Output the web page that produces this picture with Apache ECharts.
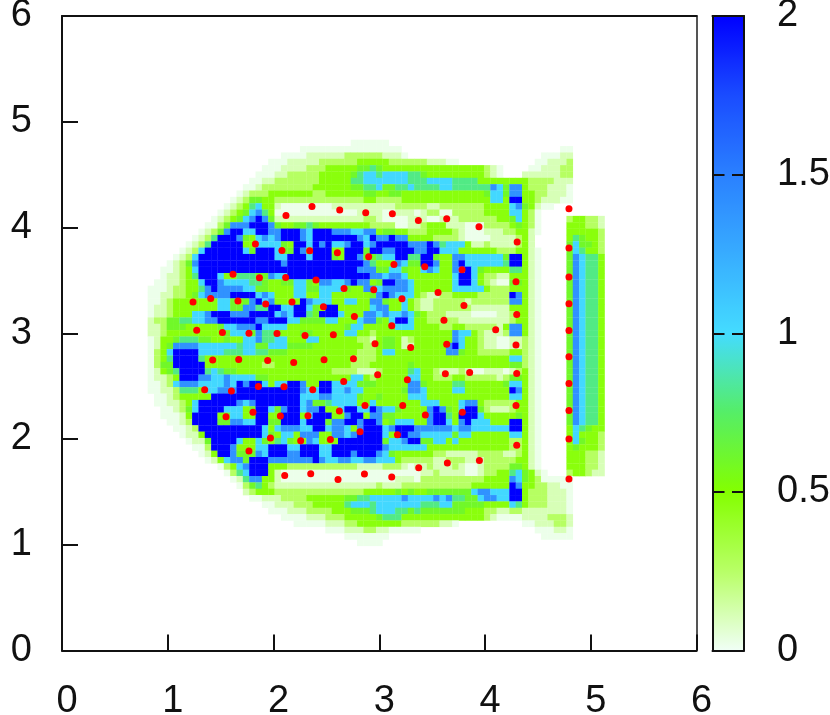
<!DOCTYPE html>
<html>
<head>
<meta charset="utf-8">
<style>html,body{margin:0;padding:0;background:#fff}#c{width:830px;height:715px}</style>
<script src="https://cdn.jsdelivr.net/npm/echarts@6/dist/echarts.min.js"></script>
</head>
<body>
<div id="c"></div>
<script>
// Cell levels. Row 0 is j=20 from the top, column 0 is i=14, cell pitch 0.06.
const xTicks = [0,1,2,3,4,5,6];
const yTicks = [0,1,2,3,4,5,6];
const barTicks = [0,0.5,1,1.5,2];
const levelValues = [0,0.02,0.11,0.26,0.47,0.6,0.8,1.02,1.4,2];
const rows = [
"000000 000000 000000 000000 000000 001111 110000 000000 000000 000000 000000 000000",
"000000 000000 000000 000000 111111 111111 111100 000000 000000 000000 000001 100000",
"000000 000000 000000 000111 122222 233333 322210 000000 000000 000000 001112 200000",
"000000 000000 000000 011122 222333 333444 443333 332221 100000 000000 011222 300000",
"000000 000000 000000 111222 233344 444556 544444 444444 444443 210000 112223 300000",
"000000 000000 000001 112233 333444 445677 677776 654444 444443 210002 222223 300000",
"000000 000000 000011 223333 333444 446677 777776 667777 666644 444444 333322 200000",
"000000 000000 000112 333333 334444 445566 755667 666677 666666 875884 333222 100000",
"000000 000000 001233 344444 443344 444455 445544 444444 444445 775884 433222 100000",
"000000 000000 012355 443333 333333 333344 333344 444444 444444 774994 432221 100000",
"000000 000000 123467 442111 111112 222222 222333 332233 333334 444785 421100 000000",
"000000 000001 234578 641111 111111 111222 211222 123311 333334 444774 310000 000000",
"000000 000012 345789 852222 222222 222233 211112 221122 233333 344574 310000 344332",
"000000 000113 588899 985445 565444 444443 333112 234442 221113 333454 310000 444332",
"000000 001235 899779 988999 879998 887788 455443 334444 321112 223344 210000 444443",
"000000 012369 998547 878999 879999 999879 889884 444333 321111 222234 200000 465443",
"000000 123699 999447 777549 979897 789978 999998 889867 774223 222234 200000 575543",
"000001 237999 999759 997559 859994 499959 988999 889977 744444 433344 210000 576443",
"000012 379999 999999 997799 979995 499855 677996 699544 887777 775994 210000 587664",
"000123 589999 999999 999899 999999 999986 444875 599844 897777 776994 210000 587664",
"001123 479999 999999 999999 999999 999888 557754 478744 889754 444664 210000 587664",
"001223 469997 446665 587799 999999 999998 878874 444444 799743 322444 210000 587664",
"011223 447998 777766 544557 754887 789884 599887 444444 799743 211554 210000 587664",
"111233 446898 888775 544447 755777 754488 788887 444444 777774 333444 210000 587664",
"112233 457888 899997 874447 744774 444445 898777 432233 444433 333984 210000 587664",
"112344 444447 754589 784444 987774 477448 854474 322333 332333 333884 210000 587664",
"122344 444447 755886 699779 975499 444447 884474 322333 333222 222444 210000 587664",
"122344 477899 988899 997879 965999 744488 787787 543332 222111 122344 210000 587664",
"233556 677889 999998 899977 555577 444788 547997 443333 322222 222344 210000 587664",
"223555 444445 778889 777744 444444 457744 445777 444433 443333 324884 210000 587664",
"223444 444444 577758 665444 554444 477443 444444 444444 877432 223884 210000 587664",
"124456 665544 544778 667744 477444 444332 455423 444444 874432 211223 210000 587664",
"124588 887777 776775 577755 554444 444433 455422 444448 974432 211223 210000 587664",
"134799 997777 666776 655544 444444 444333 477444 444448 854433 333443 210000 587664",
"134699 996444 444444 444444 444444 443333 444444 444444 444444 444773 210000 587664",
"135599 999444 444444 334444 444444 443334 444445 444444 444444 444553 210000 587664",
"124569 999676 554444 444444 444443 333222 344446 744322 232112 221234 210000 587664",
"122349 998877 877775 544444 444444 447743 444447 744333 443333 323554 210000 587664",
"112378 887777 879899 747799 844997 777555 444448 854444 664444 445774 210000 587664",
"112236 664778 889999 999999 877997 787744 444458 874444 774444 444984 210000 587664",
"011234 444499 999999 999999 777887 777544 544447 774444 444444 444774 210000 587664",
"011223 479999 998789 999999 785567 777447 444444 477744 478843 333344 210000 587664",
"001123 579999 777459 975899 788944 799779 877544 448985 479953 222344 210000 587664",
"001112 499994 577449 944999 479994 489948 855444 448996 499974 444454 210000 587664",
"000112 399995 588779 955999 799958 899899 845777 448997 489777 444994 210000 587664",
"000011 239999 999999 747888 779978 874899 978999 888888 788777 777994 210000 476544",
"000001 224999 999999 754774 888448 878999 974998 877777 577444 444774 210000 474443",
"000000 122599 997447 546754 487444 999999 957789 955774 744444 444334 210000 475443",
"000000 011399 984447 799977 999779 999999 987777 774444 444444 444334 210000 454443",
"000000 001249 985558 799988 999779 998999 875444 444332 222233 332234 210000 444332",
"000000 000124 788599 988888 889877 887788 777433 333223 332223 333344 210000 444332",
"000000 000001 347899 944433 333333 333222 233321 223222 321123 333554 210000 444332",
"000000 000000 136799 942111 111111 111111 111111 122322 221123 344675 421000 344322",
"000000 000000 012688 442111 111111 111111 111222 133333 333334 444875 431111 100000",
"000000 000000 001356 432222 222222 222222 322233 333333 333444 444984 433221 100000",
"000000 000000 000234 443333 333333 333344 444545 445555 555788 777994 333222 100000",
"000000 000000 000011 222333 344444 455667 777787 777878 665578 877994 333222 100000",
"000000 000000 000000 112223 334444 467776 777777 766677 555554 444764 333222 100000",
"000000 000000 000000 011122 233334 445556 777665 655555 554443 322332 222222 100000",
"000000 000000 000000 000111 122233 344444 566644 444444 444443 211112 222333 200000",
"000000 000000 000000 000001 111122 233444 444433 333322 100000 000001 122233 200000",
"000000 000000 000000 000000 000011 122233 221111 100000 000000 000000 011122 100000",
"000000 000000 000000 000000 000000 011111 110000 000000 000000 000000 001111 100000",
"000000 000000 000000 000000 000000 000111 100000 000000 000000 000000 000000 000000"
];
const dotX = [2.118,2.364,2.626,2.872,3.124,3.370,3.638,3.943,4.794,4.304,4.794,1.829,2.080,2.342,2.604,2.900,3.139,3.430,3.783,4.293,4.794,1.617,1.867,2.115,2.402,2.667,2.948,3.215,3.556,3.801,4.300,4.794,1.239,1.406,1.664,1.926,2.175,2.472,2.765,3.612,3.118,1.274,1.517,1.768,2.033,2.298,2.566,4.101,4.794,2.960,3.297,3.638,4.293,4.794,1.425,1.671,1.945,2.191,2.478,2.756,2.985,3.266,3.625,3.855,4.300,4.794,2.664,1.349,1.602,1.857,2.099,2.371,2.865,3.222,4.293,4.794,1.806,1.551,2.065,2.326,2.623,3.436,3.786,2.818,3.172,1.971,2.257,2.538,4.794,4.300,1.768,3.644,3.947,3.373,3.118,2.106,2.352,2.610,2.860,4.794];
const dotY = [4.113,4.199,4.165,4.139,4.130,4.066,4.082,4.007,4.177,3.862,3.805,3.843,3.783,3.780,3.761,3.723,3.651,3.628,3.600,3.486,3.531,3.559,3.524,3.527,3.503,3.423,3.411,3.326,3.385,3.262,3.177,3.278,3.295,3.329,3.304,3.276,3.295,3.250,3.158,3.124,3.071,3.029,3.007,3.001,2.998,2.979,2.985,3.033,3.026,2.900,2.865,2.897,2.888,2.777,2.746,2.752,2.742,2.723,2.749,2.758,2.607,2.560,2.617,2.629,2.619,2.525,2.544,2.465,2.453,2.497,2.494,2.465,2.317,2.317,2.317,2.270,2.254,2.210,2.217,2.219,2.264,2.226,2.254,2.068,2.040,2.009,1.983,1.995,1.999,1.942,1.886,1.772,1.797,1.728,1.640,1.655,1.671,1.617,1.668,1.621];

const firstRow = 20, firstCol = 14, pitch = 0.06;
const cells = [];
rows.forEach(function (r, k) {
  const s = r.replace(/ /g, '');
  for (let c = 0; c < s.length; c++) {
    const lv = +s[c];
    if (lv > 0) cells.push([(firstCol + c) * pitch, (100 - firstRow - k) * pitch, levelValues[lv]]);
  }
});
const dots = dotX.map(function (x, i) { return [x, dotY[i]]; });

const font = 'Liberation Sans';
const ink = '#111';
const chart = echarts.init(document.getElementById('c'), null, {renderer: 'canvas'});
const bareLine = {show: true, onZero: false, lineStyle: {color: ink, width: 2}};
chart.setOption({
  animation: false,
  backgroundColor: '#fff',
  grid: [
    {left: 62, top: 16, width: 634.5, height: 634.5, show: false, containLabel: false, outerBoundsMode: 'none'},
    {left: 712.5, top: 16, width: 31.5, height: 634.5, show: false, containLabel: false, outerBoundsMode: 'none'}
  ],
  xAxis: [
    {type: 'value', gridIndex: 0, min: 0, max: 6, interval: 1, position: 'bottom', z: 5,
     axisLine: bareLine, splitLine: {show: false},
     axisTick: {inside: true, length: 16, lineStyle: {color: ink, width: 2}},
     axisLabel: {color: ink, fontFamily: font, fontSize: 38, margin: 32, padding: [0,0,0,10], showMinLabel: true, showMaxLabel: true,
       formatter: function (v) { return xTicks.indexOf(v) >= 0 ? String(v) : ''; }}},
    {type: 'value', gridIndex: 0, min: 0, max: 6, position: 'top', z: 5, axisLine: bareLine, axisTick: {show: false}, axisLabel: {show: false}, splitLine: {show: false}},
    {type: 'value', gridIndex: 1, min: 0, max: 1, position: 'bottom', z: 5, axisLine: bareLine, axisTick: {show: false}, axisLabel: {show: false}, splitLine: {show: false}},
    {type: 'value', gridIndex: 1, min: 0, max: 1, position: 'top', z: 5, axisLine: bareLine, axisTick: {show: false}, axisLabel: {show: false}, splitLine: {show: false}}
  ],
  yAxis: [
    {type: 'value', gridIndex: 0, min: 0, max: 6, interval: 1, position: 'left', z: 5,
     axisLine: bareLine, splitLine: {show: false},
     axisTick: {inside: true, length: 16, lineStyle: {color: ink, width: 2}},
     axisLabel: {color: ink, fontFamily: font, fontSize: 38, margin: 30, showMinLabel: true, showMaxLabel: true,
       formatter: function (v) { return yTicks.indexOf(v) >= 0 ? String(v) : ''; }}},
    {type: 'value', gridIndex: 0, min: 0, max: 6, position: 'right', z: 5, axisLine: {show: true, onZero: false, lineStyle: {color: '#555', width: 2}}, axisTick: {show: false}, axisLabel: {show: false}, splitLine: {show: false}},
    {type: 'value', gridIndex: 1, min: 0, max: 2, interval: 0.5, position: 'left', z: 5,
     axisLine: bareLine, splitLine: {show: false},
     axisTick: {inside: true, length: 12, lineStyle: {color: ink, width: 2}},
     axisLabel: {show: false}},
    {type: 'value', gridIndex: 1, min: 0, max: 2, interval: 0.5, position: 'right', z: 5,
     axisLine: bareLine, splitLine: {show: false},
     axisTick: {inside: true, length: 12, lineStyle: {color: ink, width: 2}},
     axisLabel: {color: ink, fontFamily: font, fontSize: 38, margin: 33, showMinLabel: true, showMaxLabel: true,
       formatter: function (v) { return barTicks.indexOf(v) >= 0 ? String(v) : ''; }}}
  ],
  visualMap: {
    type: 'continuous', seriesIndex: 0, dimension: 2, min: 0, max: 2,
    calculable: false, hoverLink: false, left: 712.5, top: 16, itemWidth: 31.5, itemHeight: 634.5,
    padding: 0, text: null, z: 1,
    inRange: {color: ['#f0fff6', '#b8ff66', '#84ff00', '#55ee66', '#44dcff', '#38acff', '#2a80ff', '#1a4cff', '#0000ff']}
  },
  series: [
    {type: 'custom', xAxisIndex: 0, yAxisIndex: 0, coordinateSystem: 'cartesian2d', clip: true, data: cells,
     encode: {x: 0, y: 1}, silent: true, z: 2,
     renderItem: function (params, api) {
       const p = api.coord([api.value(0), api.value(1)]);
       const sz = api.size([pitch, pitch]);
       return {type: 'rect', shape: {x: p[0] - sz[0] / 2, y: p[1] - sz[1] / 2, width: sz[0] + 0.3, height: sz[1] + 0.3},
               style: {fill: api.visual('color')}};
     }},
    {type: 'scatter', xAxisIndex: 0, yAxisIndex: 0, data: dots, symbolSize: 7, z: 3,
     itemStyle: {color: '#ff0000', opacity: 1}, silent: true}
  ]
});
</script>
</body>
</html>
